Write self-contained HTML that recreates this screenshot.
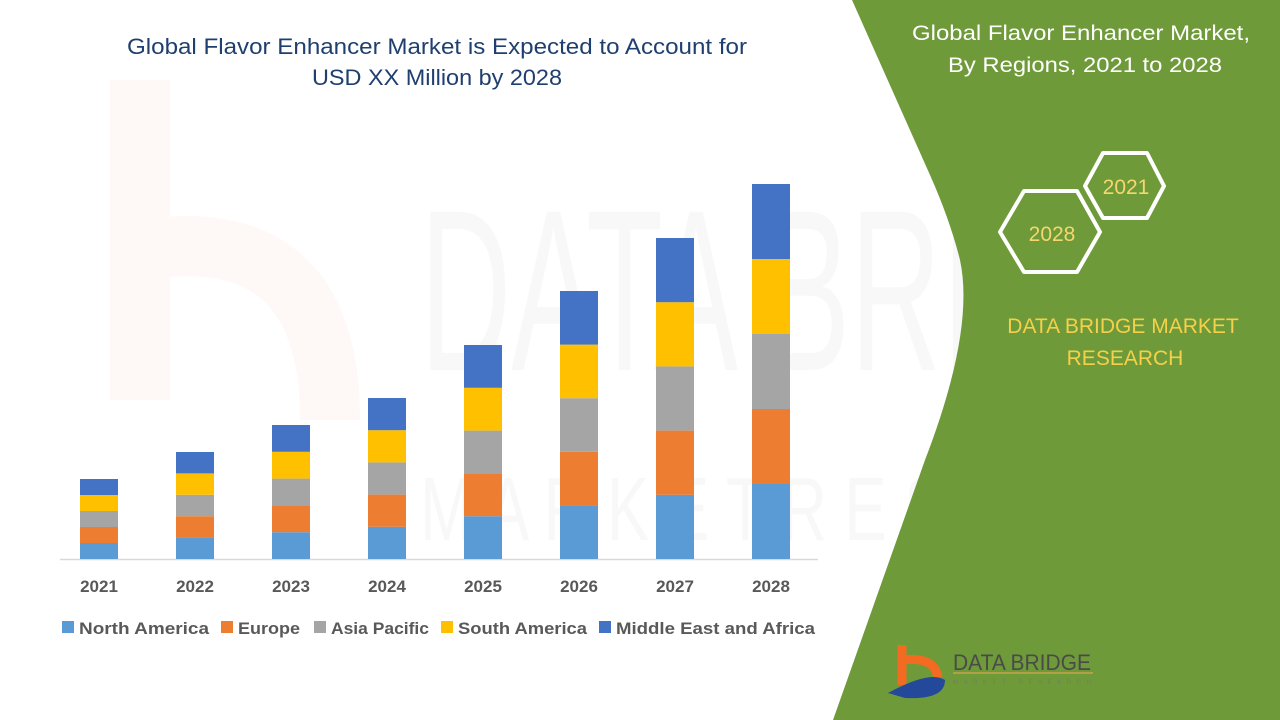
<!DOCTYPE html>
<html><head><meta charset="utf-8">
<style>
html,body{margin:0;padding:0;width:1280px;height:720px;overflow:hidden;background:#fff;}
svg{display:block;}
</style></head><body>
<svg width="1280" height="720" viewBox="0 0 1280 720" xmlns="http://www.w3.org/2000/svg" font-family="'Liberation Sans', sans-serif">
<rect width="1280" height="720" fill="#fff"/>
<g opacity="0.05" fill="#888">
  <text x="420" y="370" font-size="230" textLength="830" lengthAdjust="spacingAndGlyphs">DATA BRIDGE</text>
  <text x="420" y="540" font-size="90" textLength="830" lengthAdjust="spacingAndGlyphs">M A R K E T  R E S E A R C H</text>
</g>
<path d="M140 80 L140 400 M140 250 Q330 220 330 420" stroke="#f26b21" stroke-width="60" fill="none" opacity="0.04"/>
<path d="M852 0 L1280 0 L1280 720 L833 720 L925 460 Q975 330 960 260 Q950 220 930 175 Z" fill="#6f9a3a"/>
<text x="437" y="54" font-size="22" fill="#1f3f6e" text-anchor="middle" textLength="620" lengthAdjust="spacingAndGlyphs">Global Flavor Enhancer Market is Expected to Account for</text>
<text x="437" y="85" font-size="22" fill="#1f3f6e" text-anchor="middle" textLength="250" lengthAdjust="spacingAndGlyphs">USD XX Million by 2028</text>
<text x="1081" y="40" font-size="21" fill="#fff" text-anchor="middle" textLength="338" lengthAdjust="spacingAndGlyphs">Global Flavor Enhancer Market,</text>
<text x="1085" y="72" font-size="21" fill="#fff" text-anchor="middle" textLength="274" lengthAdjust="spacingAndGlyphs">By Regions, 2021 to 2028</text>
<polygon points="1000,232 1024,191 1077,191 1100,232 1077,272 1024,272" fill="none" stroke="#fff" stroke-width="4" stroke-linejoin="round"/>
<polygon points="1085,186 1103,153 1147,153 1164,186 1147,218 1103,218" fill="none" stroke="#fff" stroke-width="4" stroke-linejoin="round"/>
<text x="1052" y="241" font-size="21" fill="#f5d76e" text-anchor="middle">2028</text>
<text x="1126" y="194" font-size="21" fill="#f5d76e" text-anchor="middle">2021</text>
<text x="1123" y="333" font-size="21" fill="#f5d04a" text-anchor="middle">DATA BRIDGE MARKET</text>
<text x="1125" y="365" font-size="21" fill="#f5d04a" text-anchor="middle">RESEARCH</text>
<path d="M902 645 L902 685" stroke="#f26b21" stroke-width="9"/>
<path d="M902 660 Q935 656 938 678" stroke="#f26b21" stroke-width="9" fill="none"/>
<path d="M888 693 Q930 670 945 680 Q945 700 905 698 Z" fill="#24489a"/>
<text x="953" y="670" font-size="22" fill="#4a4a4a" textLength="138" lengthAdjust="spacingAndGlyphs">DATA BRIDGE</text>
<line x1="953" y1="673" x2="1093" y2="673" stroke="#c9a24a" stroke-width="1.5"/>
<text x="953" y="684" font-size="6" fill="#777" textLength="138" lengthAdjust="spacing">MARKET RESEARCH</text>
<line x1="60" y1="559.5" x2="818" y2="559.5" stroke="#d9d9d9" stroke-width="1.5"/>
<g id="bars"></g>
<g font-size="17" font-weight="bold" fill="#595959" text-anchor="middle">
<text x="99" y="592">2021</text><text x="195" y="592">2022</text><text x="291" y="592">2023</text><text x="387" y="592">2024</text>
<text x="483" y="592">2025</text><text x="579" y="592">2026</text><text x="675" y="592">2027</text><text x="771" y="592">2028</text>
</g>
<g font-size="17" font-weight="bold" fill="#595959">
<rect x="62" y="621" width="12" height="12" fill="#5b9bd5"/><text x="79" y="634" textLength="130" lengthAdjust="spacingAndGlyphs">North America</text>
<rect x="221" y="621" width="12" height="12" fill="#ed7d31"/><text x="238" y="634" textLength="62" lengthAdjust="spacingAndGlyphs">Europe</text>
<rect x="314" y="621" width="12" height="12" fill="#a5a5a5"/><text x="331" y="634" textLength="98" lengthAdjust="spacingAndGlyphs">Asia Pacific</text>
<rect x="441" y="621" width="12" height="12" fill="#ffc000"/><text x="458" y="634" textLength="129" lengthAdjust="spacingAndGlyphs">South America</text>
<rect x="599" y="621" width="12" height="12" fill="#4472c4"/><text x="616" y="634" textLength="199" lengthAdjust="spacingAndGlyphs">Middle East and Africa</text>
</g>
</svg>
<script>
(function(){
var tops=[479,452,425,398,345,291,238,184];
var cols=["#5b9bd5","#ed7d31","#a5a5a5","#ffc000","#4472c4"];
var g=document.getElementById("bars"),ns="http://www.w3.org/2000/svg";
tops.forEach(function(t,i){
  var cx=99+96*i,h=(559-t)/5;
  for(var k=0;k<5;k++){
    var r=document.createElementNS(ns,"rect");
    r.setAttribute("x",cx-19);r.setAttribute("width",38);
    r.setAttribute("y",559-h*(k+1));r.setAttribute("height",h);
    r.setAttribute("fill",cols[k]);g.appendChild(r);
  }
});
})();
</script>
</body></html>
